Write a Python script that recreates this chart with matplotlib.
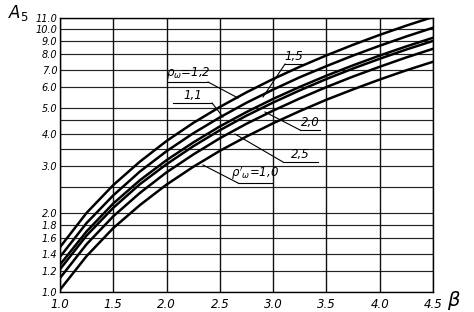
import matplotlib
matplotlib.use("Agg")
import math
import matplotlib.pyplot as plt
from matplotlib.ticker import FixedLocator, NullFormatter, FixedFormatter

beta = [1.0, 1.25, 1.5, 1.75, 2.0, 2.25, 2.5, 2.75, 3.0, 3.25, 3.5, 3.75, 4.0, 4.25, 4.5]

a5_rho_1_5 = [1.48, 2.00, 2.55, 3.13, 3.75, 4.39, 5.05, 5.74, 6.45, 7.18, 7.93, 8.70, 9.49, 10.29, 11.10]
a5_rho_1_2 = [1.36, 1.83, 2.33, 2.87, 3.43, 4.01, 4.61, 5.24, 5.88, 6.55, 7.22, 7.92, 8.63, 9.36, 10.10]
a5_rho_2_0 = [1.27, 1.70, 2.17, 2.66, 3.17, 3.70, 4.26, 4.83, 5.42, 6.02, 6.64, 7.27, 7.92, 8.58, 9.25]
a5_rho_1_1 = [1.22, 1.64, 2.09, 2.57, 3.06, 3.58, 4.12, 4.68, 5.25, 5.84, 6.45, 7.07, 7.70, 8.35, 9.00]
a5_rho_2_5 = [1.13, 1.52, 1.94, 2.38, 2.85, 3.33, 3.84, 4.36, 4.89, 5.44, 6.01, 6.59, 7.18, 7.79, 8.40]
a5_rho_1_0 = [1.02, 1.37, 1.75, 2.14, 2.56, 2.99, 3.44, 3.90, 4.38, 4.87, 5.38, 5.89, 6.42, 6.96, 7.50]

x_ticks = [1.0, 1.5, 2.0, 2.5, 3.0, 3.5, 4.0, 4.5]
x_tick_labels = ["1.0", "1.5", "2.0", "2.5", "3.0", "3.5", "4.0", "4.5"]
y_ticks = [1.0, 1.2, 1.4, 1.6, 1.8, 2.0, 3.0, 4.0, 5.0, 6.0, 7.0, 8.0, 9.0, 10.0, 11.0]
y_tick_labels = ["1.0", "1.2", "1.4", "1.6", "1.8", "2.0", "3.0", "4.0", "5.0", "6.0", "7.0", "8.0", "9.0", "10.0", "11.0"]
y_extra_grid = [2.5, 3.5, 4.5]

FONT = ['Liberation Sans Narrow', 'DejaVu Sans']

fig = plt.figure(figsize=(4.74, 3.12), dpi=100)
ax = fig.add_axes([60/474, 1-292/312, 373/474, 274/312])
ax.set_yscale('log')
ax.set_xlim(1.0, 4.5)
ax.set_ylim(1.0, 11.0)

# grid
for yv in y_ticks + y_extra_grid:
    ax.axhline(yv, color='#222222', lw=0.85, zorder=1)
for xv in x_ticks:
    ax.axvline(xv, color='#111111', lw=1.0, zorder=1)

series = [a5_rho_1_5, a5_rho_1_2, a5_rho_2_0, a5_rho_1_1, a5_rho_2_5, a5_rho_1_0]
for s in series:
    ax.plot(beta, s, color='black', lw=1.8, solid_capstyle='round', zorder=3)

ax.xaxis.set_major_locator(FixedLocator(x_ticks))
ax.xaxis.set_major_formatter(FixedFormatter(x_tick_labels))
ax.yaxis.set_major_locator(FixedLocator(y_ticks))
ax.yaxis.set_major_formatter(FixedFormatter(y_tick_labels))
ax.yaxis.set_minor_locator(FixedLocator([]))
ax.yaxis.set_minor_formatter(NullFormatter())
ax.tick_params(axis='x', length=0, pad=4)
ax.tick_params(axis='y', length=0, pad=2)
for lab in ax.get_xticklabels():
    lab.set_fontfamily(FONT); lab.set_fontstyle('italic'); lab.set_fontsize(8.5)
for lab in ax.get_yticklabels():
    lab.set_fontfamily(FONT); lab.set_fontstyle('italic'); lab.set_fontsize(7)
for sp in ax.spines.values():
    sp.set_color('black'); sp.set_linewidth(1.0)

# axis titles
fig.text(8/474, 1-13/312, r'$\mathit{A}_{5}$', fontsize=12, ha='left', va='center')
fig.text(454/474, 1-300/312, r'$\beta$', fontsize=14, ha='center', va='center')

def px2d(px, py):
    b = 1.0 + (px - 60) / (373/3.5)
    a = 10 ** ((292 - py) / (274/math.log10(11.0)))
    return b, a

labels = [
    (r"1,5", (285, 303, 64), (263, 97), 'left'),
    (r"$\rho_\omega$=1,2", (168, 208, 82), (238, 98), 'right'),
    (r"1,1", (173, 212, 103), (223, 117), 'right'),
    (r"2,0", (300, 320, 130), (265, 112), 'left'),
    (r"2,5", (283, 318, 162), (235, 134), 'left'),
    (r"$\rho'_\omega$=1,0", (238, 272, 183), (203, 165), 'left'),
]
for text, (x0, x1, yu), (xe, ye), side in labels:
    p0 = px2d(x0, yu); p1 = px2d(x1, yu); pe = px2d(xe, ye)
    ax.plot([p0[0], p1[0]], [p0[1], p1[1]], color='black', lw=0.8, zorder=4)
    start = p1 if side == 'right' else p0
    ax.plot([start[0], pe[0]], [start[1], pe[1]], color='black', lw=0.8, zorder=4)
    tx = px2d((x0 + x1) / 2, yu - 1)
    ax.text(tx[0], tx[1], text, ha='center', va='bottom', fontsize=8.5,
            fontfamily=FONT, fontstyle='italic', zorder=5)

fig.savefig('out.png', dpi=100)
